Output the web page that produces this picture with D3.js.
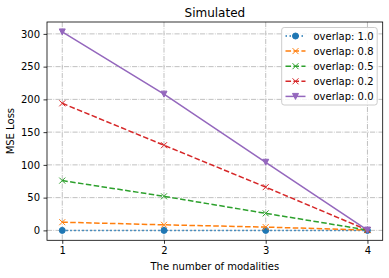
<!DOCTYPE html>
<html><head><meta charset="utf-8">
<script src="https://cdn.jsdelivr.net/npm/d3@7"></script>
<style>body{margin:0;background:#fff}svg{display:block}text{font-family:"DejaVu Sans",sans-serif;fill:#000}</style>
</head><body><svg id="c" width="389" height="278"></svg>
<script>
const modalities = [1, 2, 3, 4];
const seriesNames = ["overlap: 1.0", "overlap: 0.8", "overlap: 0.5", "overlap: 0.2", "overlap: 0.0"];
const overlap10 = [0, 0, 0, 0];
const overlap08 = [12.5, 8.5, 5, 0.5];
const overlap05 = [76, 52, 26, 0.5];
const overlap02 = [194, 130, 66, 0.5];
const overlap00 = [303, 208, 104, 0.5];
const yTicks = [0, 50, 100, 150, 200, 250, 300];
const xTicks = [1, 2, 3, 4];
const title = "Simulated", xLabel = "The number of modalities", yLabel = "MSE Loss";

const colors = ["#1f77b4", "#ff7f0e", "#2ca02c", "#d62728", "#9467bd"];
const dashes = ["1.5,2.5", "5.55,2.4", "5.55,2.4", "5.55,2.4", null];
const markers = ["circle", "x", "x", "x", "tri"];
const allSeries = [overlap10, overlap08, overlap05, overlap02, overlap00];

const L = 47, R = 382.7, T = 22, B = 240.3;
const svg = d3.select("#c");
const x = d3.scaleLinear().domain([0.85, 4.15]).range([L, R]);
const ymax = 303, ypad = ymax * 0.05;
const y = d3.scaleLinear().domain([-ypad, ymax + ypad]).range([B, T]);

// grid
const g = svg.append("g");
g.selectAll(".gx").data(xTicks).enter().append("line")
  .attr("x1", d => x(d)).attr("x2", d => x(d)).attr("y1", T).attr("y2", B)
  .attr("stroke", "#b0b0b0").attr("stroke-width", 0.8).attr("stroke-dasharray", "5.1,1.3,0.8,1.3");
g.selectAll(".gy").data(yTicks).enter().append("line")
  .attr("y1", d => y(d)).attr("y2", d => y(d)).attr("x1", L).attr("x2", R)
  .attr("stroke", "#b0b0b0").attr("stroke-width", 0.8).attr("stroke-dasharray", "5.1,1.3,0.8,1.3");

function drawMarker(sel, type, color, cx, cy) {
  if (type === "circle") {
    sel.append("circle").attr("cx", cx).attr("cy", cy).attr("r", 3).attr("fill", color).attr("stroke", color).attr("stroke-width", 1);
  } else if (type === "x") {
    sel.append("path").attr("d", `M${cx-3},${cy-3}L${cx+3},${cy+3}M${cx-3},${cy+3}L${cx+3},${cy-3}`)
      .attr("stroke", color).attr("stroke-width", 1).attr("fill", "none");
  } else {
    sel.append("path").attr("d", `M${cx-3},${cy-3}L${cx+3},${cy-3}L${cx},${cy+3}Z`)
      .attr("fill", color).attr("stroke", color).attr("stroke-width", 1);
  }
}

const plot = svg.append("g");
const line = d3.line().x((d, i) => x(modalities[i])).y(d => y(d));
allSeries.forEach((vals, si) => {
  const gs = plot.append("g");
  gs.append("path").attr("d", line(vals)).attr("fill", "none").attr("stroke", colors[si])
    .attr("stroke-width", 1.5).attr("stroke-dasharray", dashes[si]);
  vals.forEach((v, i) => drawMarker(gs, markers[si], colors[si], x(modalities[i]), y(v)));
});

// spines
svg.append("rect").attr("x", L).attr("y", T).attr("width", R - L).attr("height", B - T)
  .attr("fill", "none").attr("stroke", "#000").attr("stroke-width", 0.8);

// axes
const xa = svg.append("g").attr("transform", `translate(0,${B})`)
  .call(d3.axisBottom(x).tickValues(xTicks).tickSize(3.5).tickPadding(3.5).tickFormat(d3.format("d")));
const ya = svg.append("g").attr("transform", `translate(${L},0)`)
  .call(d3.axisLeft(y).tickValues(yTicks).tickSize(3.5).tickPadding(3.5).tickFormat(d3.format("d")));
[xa, ya].forEach(a => {
  a.select(".domain").remove();
  a.selectAll("line").attr("stroke", "#000").attr("stroke-width", 0.8);
  a.selectAll("text").attr("font-size", 10).attr("font-family", "DejaVu Sans");
});

svg.append("text").attr("x", (L + R) / 2).attr("y", 16.5).attr("text-anchor", "middle").attr("font-size", 12).text(title);
svg.append("text").attr("x", (L + R) / 2).attr("y", 270).attr("text-anchor", "middle").attr("font-size", 10).text(xLabel);
svg.append("text").attr("transform", `translate(14,${(T + B) / 2}) rotate(-90)`).attr("text-anchor", "middle").attr("font-size", 10).text(yLabel);

// legend
const lg = svg.append("g");
lg.append("rect").attr("x", 281.7).attr("y", 27.5).attr("width", 95.5).attr("height", 77.5).attr("rx", 2.5)
  .attr("fill", "#fff").attr("fill-opacity", 0.8).attr("stroke", "#cccccc").attr("stroke-width", 1);
seriesNames.forEach((name, i) => {
  const cy = 36 + i * 15.1;
  lg.append("line").attr("x1", 285.5).attr("x2", 305.5).attr("y1", cy).attr("y2", cy)
    .attr("stroke", colors[i]).attr("stroke-width", 1.5).attr("stroke-dasharray", dashes[i]);
  drawMarker(lg, markers[i], colors[i], 295.5, cy);
  lg.append("text").attr("x", 313.5).attr("y", cy + 3.6).attr("font-size", 10).text(name);
});
</script></body></html>
